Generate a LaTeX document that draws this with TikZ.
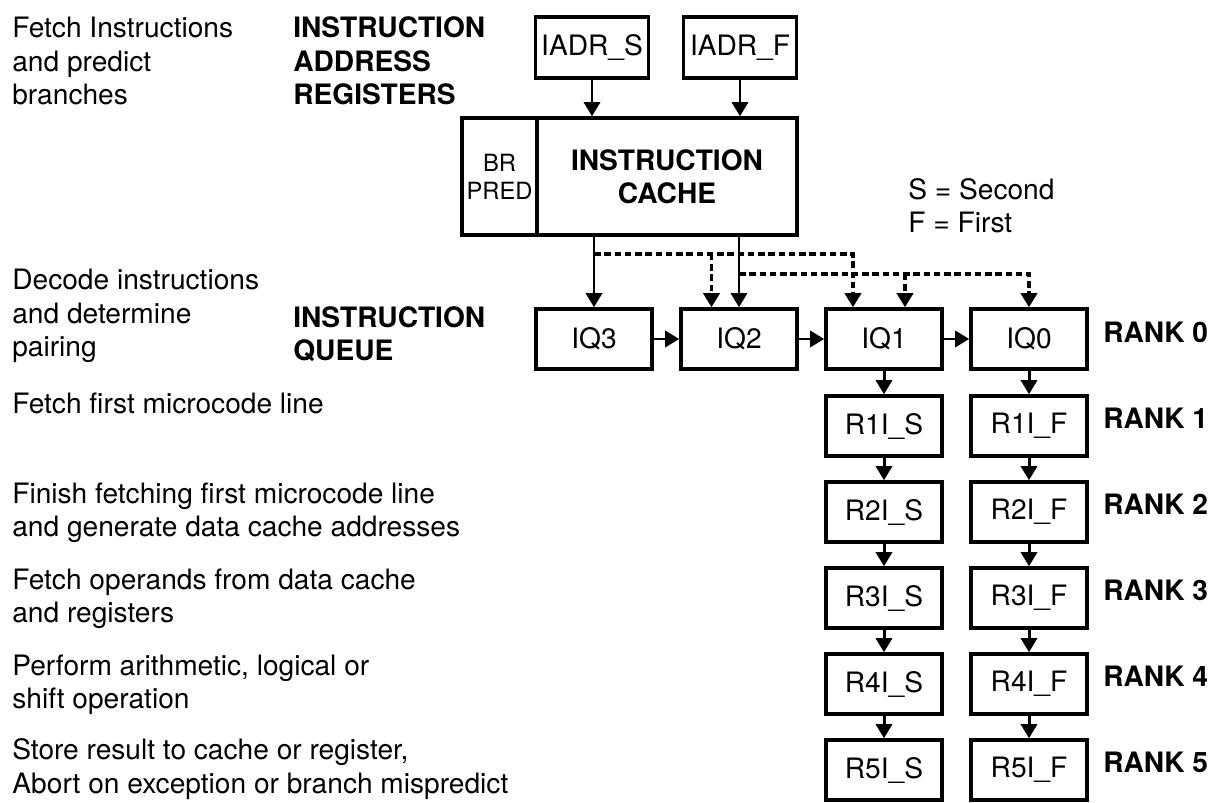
\documentclass[tikz,border=0pt]{standalone}
\usepackage{fontspec}
\setmainfont{TeX Gyre Heros}
\usetikzlibrary{arrows.meta,calc,positioning}

\begin{document}
\begin{tikzpicture}[x=1cm,y=1cm,>={Triangle[length=0.28cm,width=0.32cm]},line join=miter]

% Text and box styles
\tikzset{
  stagetext/.style={font=\fontsize{16}{19}\selectfont,align=left,anchor=west,inner sep=0pt},
  unittext/.style={font=\fontsize{16}{19}\selectfont\bfseries,align=left,anchor=west,inner sep=0pt},
  regbox/.style={draw,line width=2pt,minimum width=2.32cm,minimum height=1.2cm,inner sep=0pt,font=\fontsize{16}{19}\selectfont},
  flow/.style={line width=1.7pt,->},
  bus/.style={line width=2pt,dash pattern=on 0.13cm off 0.075cm,->}
}

\useasboundingbox (0,0) rectangle (24.38,16.04);

% Stage descriptions on the left
\node[stagetext] (fetchtxt) at (0.24,14.82) {Fetch Instructions\\and predict\\branches};
\node[stagetext] (decodetxt) at (0.24,9.72) {Decode instructions\\and determine\\pairing};
\node[stagetext] (mc1txt) at (0.24,7.98) {Fetch first microcode line};
\node[stagetext] (mc2txt) at (0.24,5.78) {Finish fetching first microcode line\\and generate data cache addresses};
\node[stagetext] (opndtxt) at (0.24,4.06) {Fetch operands from data cache\\and registers};
\node[stagetext] (alutxt) at (0.24,2.35) {Perform arithmetic, logical or\\shift operation};
\node[stagetext] (storetxt) at (0.24,0.66) {Store result to cache or register,\\Abort on exception or branch mispredict};

% Unit names
\node[unittext] (iadrtxt) at (5.86,14.82) {INSTRUCTION\\ADDRESS\\REGISTERS};
\node[unittext] (iqtxt) at (5.86,9.36) {INSTRUCTION\\QUEUE};

% Address registers
\node[regbox,minimum width=2.26cm,minimum height=1.22cm] (iadrs) at (11.84,15.09) {IADR\_S};
\node[regbox,minimum width=2.26cm,minimum height=1.22cm] (iadrf) at (14.80,15.09) {IADR\_F};

% Branch predictor and instruction cache
\node[draw,line width=2pt,minimum width=1.5cm,minimum height=2.34cm,inner sep=0pt,
      font=\fontsize{13.5}{16}\selectfont,align=center] (brpred) at (9.99,12.51) {BR\\PRED};
\node[draw,line width=2pt,minimum width=5.2cm,minimum height=2.34cm,inner sep=0pt,
      font=\fontsize{16}{19}\selectfont\bfseries,align=center] (cache) at (13.34,12.51) {INSTRUCTION\\CACHE};

% Legend
\node[stagetext] (legend) at (18.16,11.93) {S = Second\\F = First};

% Instruction queue
\node[regbox] (iq3) at (11.88,9.26) {IQ3};
\node[regbox] (iq2) at (14.78,9.26) {IQ2};
\node[regbox] (iq1) at (17.68,9.26) {IQ1};
\node[regbox] (iq0) at (20.58,9.26) {IQ0};
\node[unittext] (rank0) at (22.06,9.40) {RANK 0};

% Pipeline ranks
\foreach \r/\yy in {1/7.52,2/5.80,3/4.08,4/2.36,5/0.64} {
  \node[regbox] (rs\r) at (17.68,\yy) {R\r I\_S};
  \node[regbox] (rf\r) at (20.58,\yy) {R\r I\_F};
  \node[unittext] (rank\r) at (22.06,\yy+0.16) {RANK \r};
}

% Address registers into cache
\draw[flow] (iadrs) -- (iadrs |- cache.north);
\draw[flow] (iadrf) -- (iadrf |- cache.north);

% Cache into queue
\draw[flow] (iq3.north |- cache.south) -- (iq3.north);
\draw[flow] (iq2.north |- cache.south) -- (iq2.north);

% Queue shifts
\draw[flow] (iq3) -- (iq2);
\draw[flow] (iq2) -- (iq1);
\draw[flow] (iq1) -- (iq0);

% Bypass buses (dashed)
\coordinate (upbus) at (0,10.96);
\coordinate (lowbus) at (0,10.56);
\coordinate (tq2) at ($(iq2.north)+(-0.55,0)$);
\coordinate (tq1a) at ($(iq1.north)+(-0.62,0)$);
\coordinate (tq1b) at ($(iq1.north)+(0.42,0)$);
\draw[bus] (iq3.north |- upbus) -- (tq1a |- upbus) -- (tq1a);
\draw[bus] (tq2 |- upbus) -- (tq2);
\draw[bus] (iq2.north |- lowbus) -- (iq0.north |- lowbus) -- (iq0.north);
\draw[bus] (tq1b |- lowbus) -- (tq1b);

% Down through the ranks
\draw[flow] (iq1) -- (rs1);
\draw[flow] (iq0) -- (rf1);
\foreach \r [count=\n from 2] in {1,2,3,4} {
  \draw[flow] (rs\r) -- (rs\n);
  \draw[flow] (rf\r) -- (rf\n);
}

\end{tikzpicture}
\end{document}
